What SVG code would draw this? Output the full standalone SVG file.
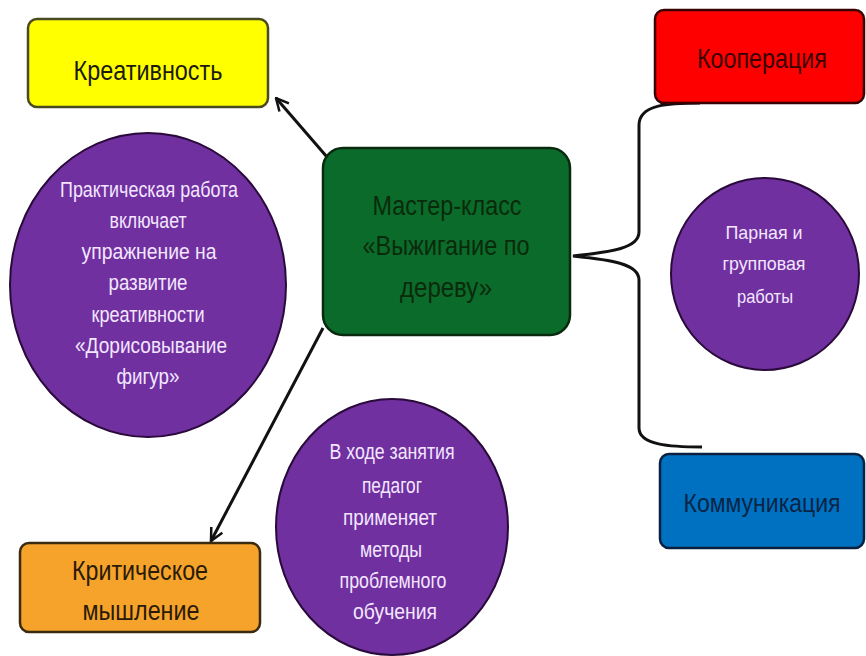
<svg xmlns="http://www.w3.org/2000/svg" width="866" height="656" viewBox="0 0 866 656">
<defs>
<marker id="ah" viewBox="0 0 12 12" refX="11" refY="6" markerWidth="5" markerHeight="5" markerUnits="strokeWidth" orient="auto">
<path d="M1,1 L11,6 L1,11" fill="none" stroke="#111" stroke-width="2"/>
</marker>
<style>
.box{stroke-width:2.5}
.lbl{font-family:"Liberation Sans",Arial,sans-serif;font-size:28px;text-anchor:middle}
.circ{fill:#7030A0;stroke:#2a0a3a;stroke-width:2}
.ct{font-family:"Liberation Sans",Arial,sans-serif;font-size:22px;text-anchor:middle;fill:#f3e6ff}
.con{fill:none;stroke:#111;stroke-width:3}
</style>
</defs>
<rect width="866" height="656" fill="#ffffff"/>
<g id="connectors">
<line class="con" x1="327" y1="157" x2="276" y2="98" marker-end="url(#ah)"/>
<line class="con" x1="323" y1="328" x2="211" y2="541" marker-end="url(#ah)"/>
<path class="con" d="M700,103 C670,103 639,104 639,125 L639,232 C639,248 612,252 573,256 C612,260 639,264 639,280 L639,428 C639,445 670,447 702,447"/>
</g>
<g id="kreativnost">
<rect class="box" x="28" y="19" width="240" height="88" rx="9" fill="#FFFF00" stroke="#4a4a20"/>
<text class="lbl" x="148" y="80" fill="#1a1a10" textLength="149" lengthAdjust="spacingAndGlyphs">Креативность</text>
</g>
<g id="kooperatsiya">
<rect class="box" x="655" y="10" width="209" height="93" rx="9" fill="#FF0000" stroke="#3a0000"/>
<text class="lbl" x="762" y="68" fill="#3a0000" textLength="130" lengthAdjust="spacingAndGlyphs">Кооперация</text>
</g>
<g id="kommunikatsiya">
<rect class="box" x="660" y="454" width="204" height="94" rx="9" fill="#0070C0" stroke="#0a2040"/>
<text class="lbl" x="762" y="512" fill="#0a2545" style="font-size:25px" textLength="157" lengthAdjust="spacingAndGlyphs">Коммуникация</text>
</g>
<g id="kriticheskoe">
<rect class="box" x="20" y="543" width="240" height="89" rx="9" fill="#F5A32A" stroke="#3a2a10"/>
<text class="lbl" x="140" y="580" fill="#2a1a08" textLength="136" lengthAdjust="spacingAndGlyphs">Критическое</text>
<text class="lbl" x="141" y="620" fill="#2a1a08" textLength="117" lengthAdjust="spacingAndGlyphs">мышление</text>
</g>
<g id="master-klass">
<rect class="box" x="323" y="148" width="247" height="187" rx="20" fill="#0B6B2A" stroke="#0a2a10"/>
<text class="lbl" x="447" y="215" fill="#0a2a0c" textLength="149" lengthAdjust="spacingAndGlyphs">Мастер-класс</text>
<text class="lbl" x="446" y="255" fill="#0a2a0c" textLength="167" lengthAdjust="spacingAndGlyphs">«Выжигание по</text>
<text class="lbl" x="446" y="297" fill="#0a2a0c" textLength="92" lengthAdjust="spacingAndGlyphs">дереву»</text>
</g>
<g id="circle-praktika">
<ellipse class="circ" cx="148" cy="285" rx="138" ry="152"/>
<text class="ct" x="149" y="197" textLength="178" lengthAdjust="spacingAndGlyphs">Практическая работа</text>
<text class="ct" x="148" y="228" textLength="77" lengthAdjust="spacingAndGlyphs">включает</text>
<text class="ct" x="149" y="259" textLength="135" lengthAdjust="spacingAndGlyphs">упражнение на</text>
<text class="ct" x="148" y="290" textLength="79" lengthAdjust="spacingAndGlyphs">развитие</text>
<text class="ct" x="148" y="322" textLength="113" lengthAdjust="spacingAndGlyphs">креативности</text>
<text class="ct" x="151" y="353" textLength="152" lengthAdjust="spacingAndGlyphs">«Дорисовывание</text>
<text class="ct" x="148" y="384" textLength="63" lengthAdjust="spacingAndGlyphs">фигур»</text>
</g>
<g id="circle-parnaya">
<ellipse class="circ" cx="765" cy="274" rx="94" ry="96"/>
<text class="ct" x="764" y="239" style="font-size:19px" textLength="77" lengthAdjust="spacingAndGlyphs">Парная и</text>
<text class="ct" x="764" y="270" style="font-size:19px" textLength="83" lengthAdjust="spacingAndGlyphs">групповая</text>
<text class="ct" x="765" y="303" style="font-size:19px" textLength="56" lengthAdjust="spacingAndGlyphs">работы</text>
</g>
<g id="circle-problem">
<ellipse class="circ" cx="392" cy="527" rx="116" ry="128"/>
<text class="ct" x="392" y="459" textLength="125" lengthAdjust="spacingAndGlyphs">В ходе занятия</text>
<text class="ct" x="392" y="493" textLength="60" lengthAdjust="spacingAndGlyphs">педагог</text>
<text class="ct" x="390" y="525" textLength="94" lengthAdjust="spacingAndGlyphs">применяет</text>
<text class="ct" x="391" y="557" textLength="62" lengthAdjust="spacingAndGlyphs">методы</text>
<text class="ct" x="393" y="588" textLength="107" lengthAdjust="spacingAndGlyphs">проблемного</text>
<text class="ct" x="395" y="619" textLength="84" lengthAdjust="spacingAndGlyphs">обучения</text>
</g>
</svg>
